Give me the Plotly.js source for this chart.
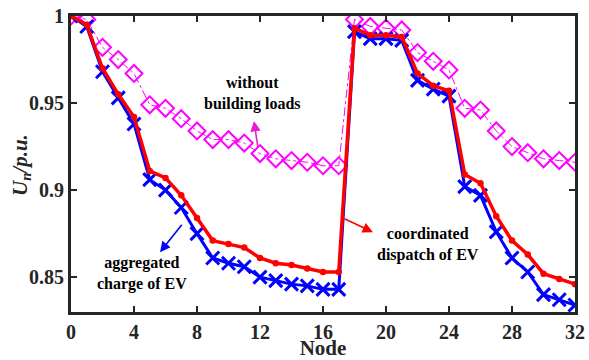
<!DOCTYPE html>
<html><head><meta charset="utf-8">
<script src="https://cdn.plot.ly/plotly-3.0.1.min.js"></script>
<style>html,body{margin:0;padding:0;background:#fff}#chart{width:589px;height:360px}</style>
</head><body><div id="chart"></div>
<script>
const nodes = [0,1,2,3,4,5,6,7,8,9,10,11,12,13,14,15,16,17,18,19,20,21,22,23,24,25,26,27,28,29,30,31,32];
const withoutBuilding = [1.000,0.998,0.982,0.975,0.967,0.949,0.947,0.941,0.934,0.929,0.929,0.927,0.921,0.918,0.917,0.916,0.914,0.914,0.998,0.994,0.993,0.992,0.979,0.974,0.969,0.947,0.946,0.934,0.925,0.9215,0.918,0.917,0.916];
const aggregated = [1.000,0.994,0.968,0.953,0.938,0.906,0.900,0.890,0.875,0.861,0.858,0.856,0.850,0.848,0.846,0.845,0.843,0.843,0.991,0.987,0.987,0.986,0.963,0.958,0.954,0.902,0.897,0.876,0.861,0.853,0.840,0.837,0.834];
const coordinated = [1.000,0.995,0.970,0.955,0.942,0.911,0.907,0.897,0.884,0.871,0.869,0.867,0.861,0.858,0.857,0.855,0.853,0.853,0.993,0.989,0.989,0.988,0.967,0.960,0.957,0.909,0.904,0.885,0.871,0.863,0.852,0.849,0.846];
const xTicks = [0,4,8,12,16,20,24,28,32];
const yTicks = [0.85,0.9,0.95,1];
const yTickText = ['0.85','0.9','0.95','1'];

const serif = 'Liberation Serif, Times New Roman, serif';
const traces = [
  {x:nodes, y:withoutBuilding, mode:'lines+markers', name:'without building loads',
   line:{color:'#ff00ff', width:1, dash:'dashdot'},
   marker:{symbol:'diamond-open', size:13, color:'#ff00ff', line:{width:2, color:'#ff00ff'}}},
  {x:nodes, y:aggregated, mode:'lines+markers', name:'aggregated charge of EV',
   line:{color:'#0000ff', width:3},
   marker:{symbol:'x-thin-open', size:13, color:'#0000ff', line:{width:3, color:'#0000ff'}}},
  {x:nodes, y:coordinated, mode:'lines+markers', name:'coordinated dispatch of EV',
   line:{color:'#ff0000', width:3.5},
   marker:{symbol:'circle', size:6.5, color:'#ff0000'}}
];
const axisCommon = {showgrid:false, zeroline:false, showline:true, linecolor:'#262626', linewidth:3,
  mirror:'ticks', ticks:'inside', ticklen:6, tickwidth:2, tickcolor:'#262626',
  tickfont:{family:serif, size:20, color:'#262626', weight:'bold'}};
const txt = (x, y, t) => ({xref:'paper', yref:'paper', x:(x-71)/504, y:1-(y-16)/296, text:t,
  xanchor:'center', yanchor:'middle', showarrow:false, font:{family:serif, size:16, color:'#000'}, align:'center'});
const arr = (tx, ty, hx, hy, c) => ({xref:'x', yref:'y', axref:'x', ayref:'y',
  x:(hx-71)/15.75, y:1-(hy-16)/1740, ax:(tx-71)/15.75, ay:1-(ty-16)/1740, text:'',
  showarrow:true, arrowhead:2, arrowsize:1.3, arrowwidth:1.6, arrowcolor:c, standoff:0, startstandoff:0});
const layout = {
  width:589, height:360, margin:{l:71, r:14, t:16, b:48},
  paper_bgcolor:'#fff', plot_bgcolor:'#fff', showlegend:false,
  xaxis:Object.assign({}, axisCommon, {range:[0,32], tickvals:xTicks, ticktext:xTicks.map(String),
    title:{text:'<b>Node</b>', font:{family:serif, size:21, color:'#262626'}, standoff:3}}),
  yaxis:Object.assign({}, axisCommon, {range:[0.83,1.0], tickvals:yTicks, ticktext:yTickText}),
  annotations:[
    txt(252, 94, '<b>without<br>building loads</b>'),
    txt(142, 273, '<b>aggregated<br>charge of EV</b>'),
    txt(428, 244, '<b>coordinated<br>dispatch of EV</b>'),
    {xref:'paper', yref:'paper', x:(21-71)/504, y:1-(165-16)/296, xanchor:'center', yanchor:'middle',
     textangle:-90, showarrow:false, text:'<b><i>U<sub>n</sub>/p.u.</i></b>',
     font:{family:serif, size:21, color:'#262626'}},
    arr(258, 148, 254, 121, '#e81fd0'),
    arr(183, 223, 160, 252, '#0000ff'),
    arr(343, 218, 373, 232, '#ff0000')
  ]
};
Plotly.newPlot('chart', traces, layout, {displayModeBar:false, staticPlot:true});
</script></body></html>
